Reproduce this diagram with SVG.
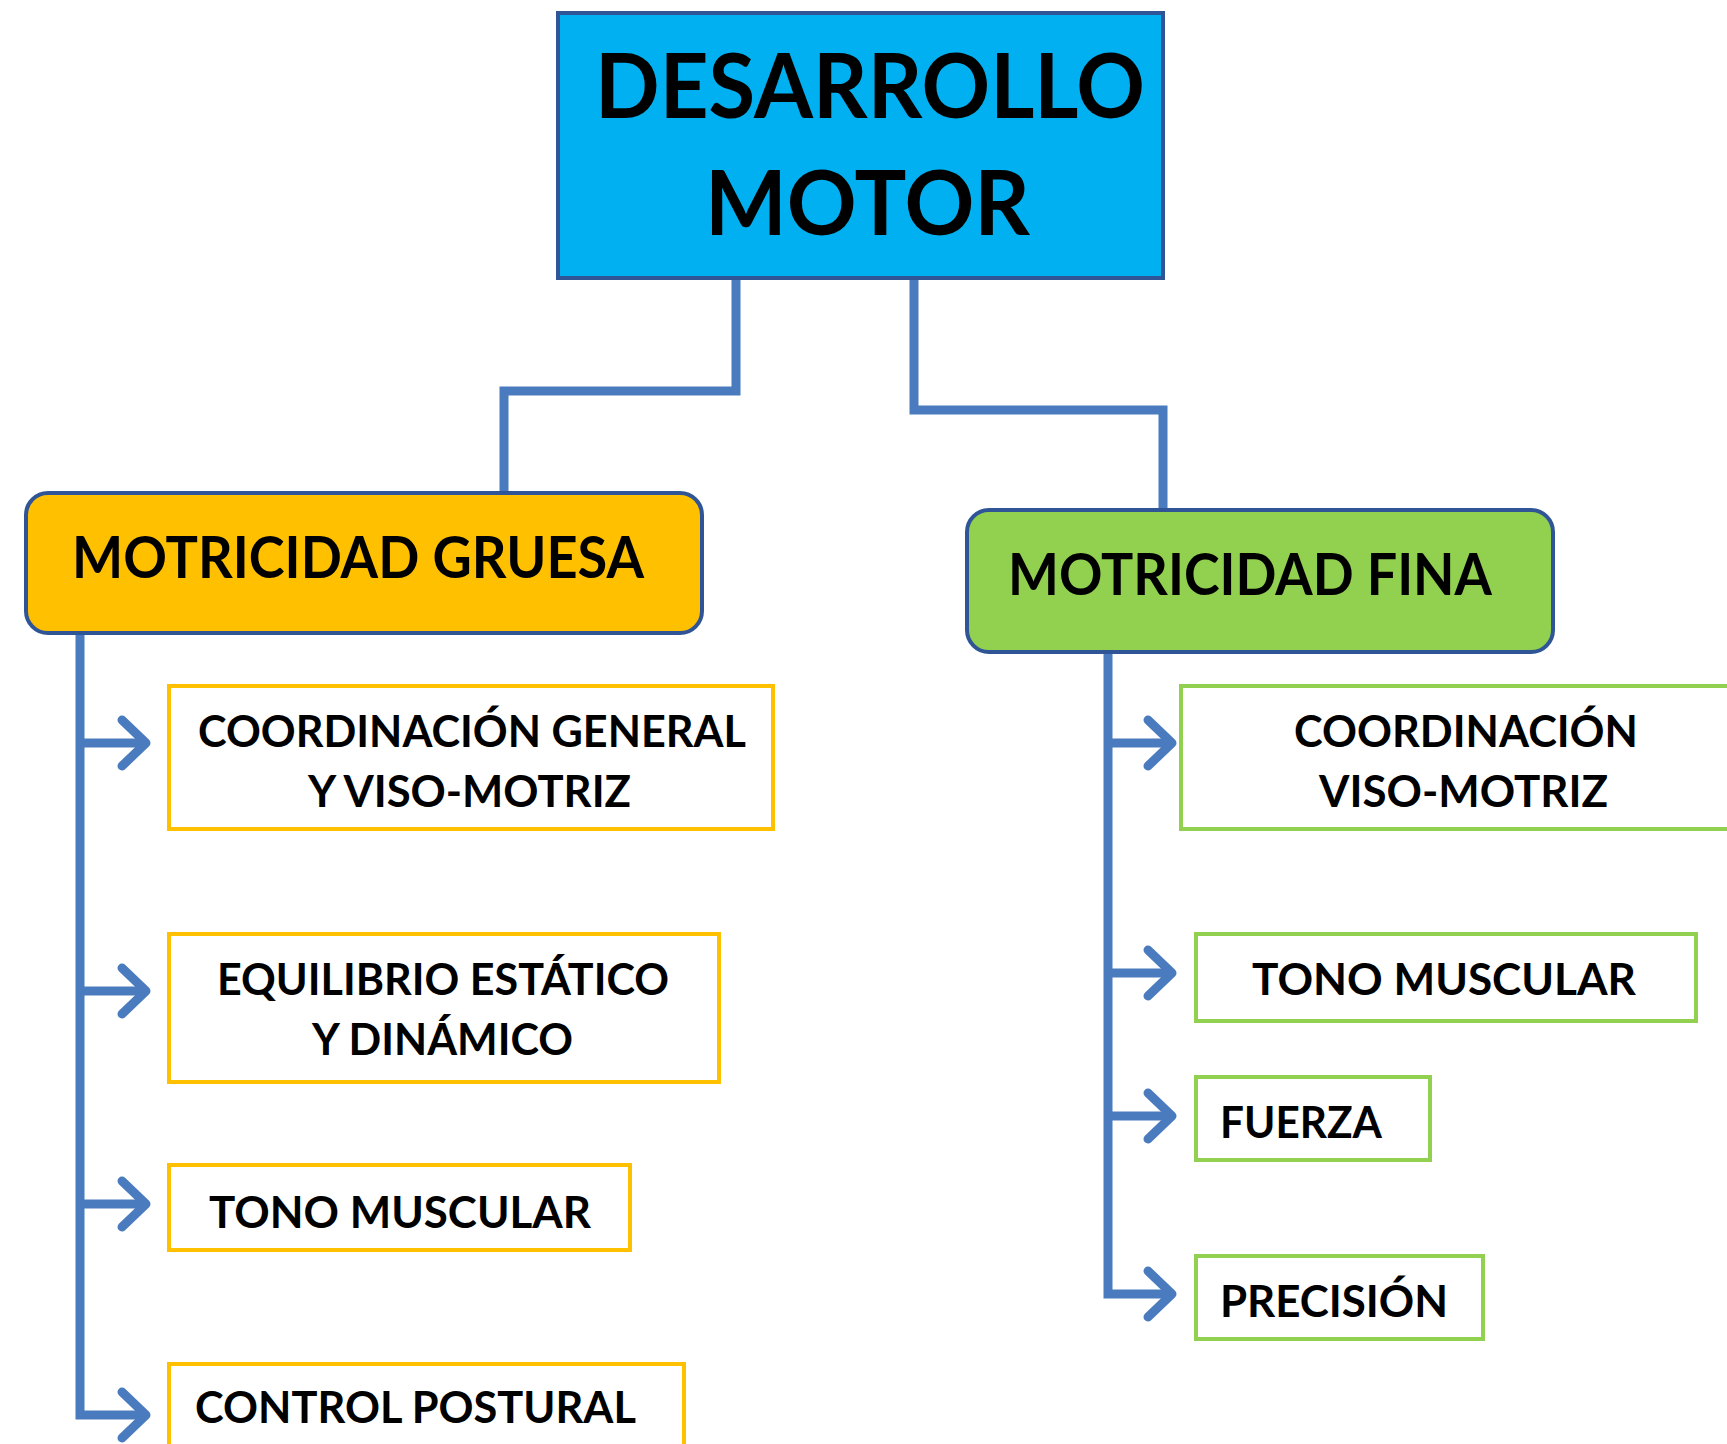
<svg xmlns="http://www.w3.org/2000/svg" width="1727" height="1444" viewBox="0 0 1727 1444">
<defs>
<style>
.conn{fill:none;stroke:#4A7BBE;stroke-width:9;stroke-linejoin:miter;}
.t{font-family:Lato,"Open Sans","Liberation Sans",sans-serif;font-weight:bold;fill:#000;}
.sub{font-size:43px;}
.hd{font-size:57px;}
.ob{fill:#fff;stroke:#FFC000;stroke-width:4;}
.gb{fill:#fff;stroke:#92D050;stroke-width:4;}
</style>
<marker id="chev" markerUnits="userSpaceOnUse" viewBox="-34 -30 40 60" markerWidth="40" markerHeight="60" refX="0" refY="0" orient="auto" overflow="visible">
<path d="M-24,-23 L0,0 L-24,23" fill="none" stroke="#4A7BBE" stroke-width="9" stroke-linecap="round" stroke-linejoin="round"/>
</marker>
</defs>
<rect width="1727" height="1444" fill="#fff"/>
<g id="connectors">
<path class="conn" d="M736,278 V391 H504 V493"/>
<path class="conn" d="M914,278 V410 H1163 V510"/>
<path class="conn" d="M80,633 V1415 H146" marker-end="url(#chev)"/>
<path class="conn" d="M80,743 H146" marker-end="url(#chev)"/>
<path class="conn" d="M80,991 H146" marker-end="url(#chev)"/>
<path class="conn" d="M80,1204 H146" marker-end="url(#chev)"/>
<path class="conn" d="M1108,652 V1294 H1172" marker-end="url(#chev)"/>
<path class="conn" d="M1108,743 H1172" marker-end="url(#chev)"/>
<path class="conn" d="M1108,973 H1172" marker-end="url(#chev)"/>
<path class="conn" d="M1108,1116 H1172" marker-end="url(#chev)"/>
</g>
<g id="desarrollo-motor">
<rect x="558" y="13" width="605" height="265" fill="#00B0F0" stroke="#2F5597" stroke-width="4"/>
<text class="t" x="595" y="118" font-size="90" textLength="550" lengthAdjust="spacingAndGlyphs">DESARROLLO</text>
<text class="t" x="705" y="235" font-size="90" textLength="325" lengthAdjust="spacingAndGlyphs">MOTOR</text>
</g>
<g id="motricidad-gruesa">
<rect x="26" y="493" width="676" height="140" rx="22" fill="#FFC000" stroke="#2F5597" stroke-width="4"/>
<text class="t hd" x="72" y="578" textLength="572" lengthAdjust="spacingAndGlyphs">MOTRICIDAD GRUESA</text>
</g>
<g id="motricidad-fina">
<rect x="967" y="510" width="586" height="142" rx="22" fill="#92D050" stroke="#2F5597" stroke-width="4"/>
<text class="t hd" x="1008" y="595" textLength="484" lengthAdjust="spacingAndGlyphs">MOTRICIDAD FINA</text>
</g>
<g id="g-coordinacion">
<rect class="ob" x="169" y="686" width="604" height="143"/>
<text class="t sub" x="198" y="747" textLength="548" lengthAdjust="spacingAndGlyphs">COORDINACIÓN GENERAL</text>
<text class="t sub" x="308" y="807" textLength="323" lengthAdjust="spacingAndGlyphs">Y VISO-MOTRIZ</text>
</g>
<g id="g-equilibrio">
<rect class="ob" x="169" y="934" width="550" height="148"/>
<text class="t sub" x="217" y="995" textLength="452" lengthAdjust="spacingAndGlyphs">EQUILIBRIO ESTÁTICO</text>
<text class="t sub" x="312" y="1055" textLength="261" lengthAdjust="spacingAndGlyphs">Y DINÁMICO</text>
</g>
<g id="g-tono">
<rect class="ob" x="169" y="1165" width="461" height="85"/>
<text class="t sub" x="209" y="1228" textLength="382" lengthAdjust="spacingAndGlyphs">TONO MUSCULAR</text>
</g>
<g id="g-control">
<rect class="ob" x="169" y="1364" width="515" height="90"/>
<text class="t sub" x="195" y="1423" textLength="441" lengthAdjust="spacingAndGlyphs">CONTROL POSTURAL</text>
</g>
<g id="f-coordinacion">
<rect class="gb" x="1181" y="686" width="560" height="143"/>
<text class="t sub" x="1294" y="747" textLength="344" lengthAdjust="spacingAndGlyphs">COORDINACIÓN</text>
<text class="t sub" x="1319" y="807" textLength="289" lengthAdjust="spacingAndGlyphs">VISO-MOTRIZ</text>
</g>
<g id="f-tono">
<rect class="gb" x="1196" y="934" width="500" height="87"/>
<text class="t sub" x="1252" y="995" textLength="384" lengthAdjust="spacingAndGlyphs">TONO MUSCULAR</text>
</g>
<g id="f-fuerza">
<rect class="gb" x="1196" y="1077" width="234" height="83"/>
<text class="t sub" x="1220" y="1138" textLength="162" lengthAdjust="spacingAndGlyphs">FUERZA</text>
</g>
<g id="f-precision">
<rect class="gb" x="1196" y="1256" width="287" height="83"/>
<text class="t sub" x="1220" y="1317" textLength="228" lengthAdjust="spacingAndGlyphs">PRECISIÓN</text>
</g>
</svg>
